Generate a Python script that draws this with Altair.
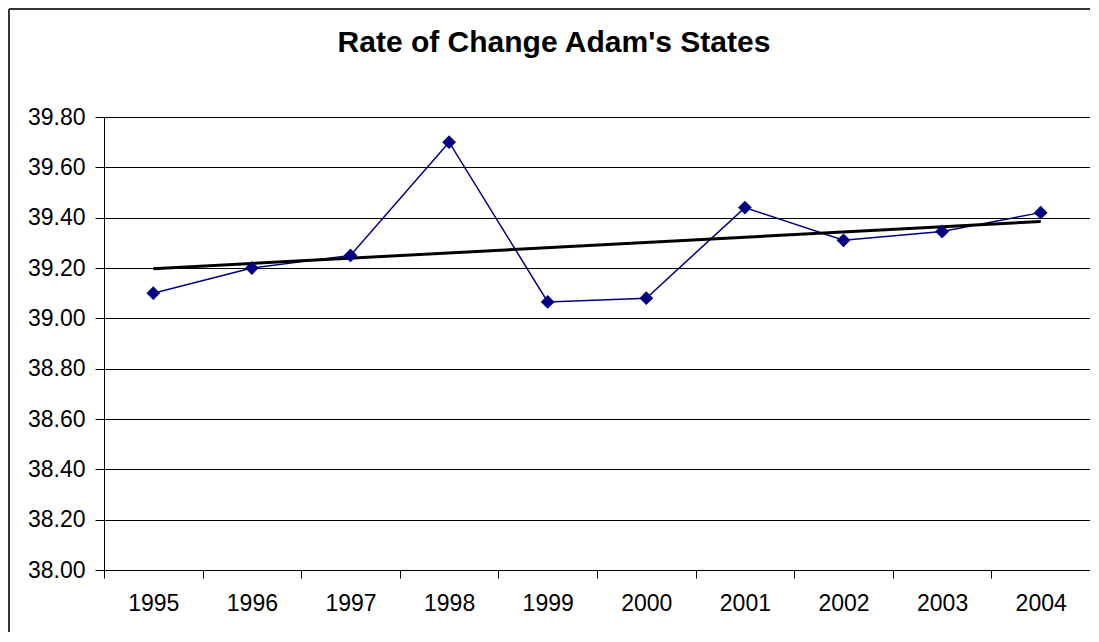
import altair as alt
import pandas as pd

years = [1995, 1996, 1997, 1998, 1999, 2000, 2001, 2002, 2003, 2004]
values = [39.10, 39.20, 39.25, 39.70, 39.065, 39.08, 39.44, 39.31, 39.345, 39.42]
y_ticks = [38.0, 38.2, 38.4, 38.6, 38.8, 39.0, 39.2, 39.4, 39.6, 39.8]
x_bounds = [1994.5, 1995.5, 1996.5, 1997.5, 1998.5, 1999.5, 2000.5, 2001.5, 2002.5, 2003.5, 2004.5]
title_text = ["Rate of Change Adam's States"]

df = pd.DataFrame({"year": years, "value": values})

W, H = 986, 453
FONT = "Liberation Sans"

x_scale = alt.Scale(domain=[1994.5, 2004.5], nice=False, zero=False)
y_scale = alt.Scale(domain=[38.0, 39.8], nice=False, zero=False)

x_axis = alt.Axis(
    values=x_bounds, title=None, grid=False,
    labelExpr="datum.value < 2004 ? format(datum.value + 0.5, 'd') : ''",
    labelOffset=W / 20, labelFlush=False, labelOverlap=False,
    tickSize=8, tickColor="black", domainColor="black",
    labelFontSize=23, labelColor="black", labelPadding=14, labelFont=FONT,
)
y_axis = alt.Axis(
    values=y_ticks, title=None, format=".2f", grid=True,
    gridColor="black", gridWidth=1,
    tickSize=9, tickColor="black", domainColor="black",
    labelFontSize=23, labelColor="black", labelPadding=10, labelFont=FONT,
)

base = alt.Chart(df)

line = base.mark_line(color="#000080", strokeWidth=1.5).encode(
    x=alt.X("year:Q", scale=x_scale, axis=x_axis),
    y=alt.Y("value:Q", scale=y_scale, axis=y_axis),
)
points = base.mark_point(shape="diamond", filled=True, color="#000080", size=190, opacity=1).encode(
    x=alt.X("year:Q", scale=x_scale),
    y=alt.Y("value:Q", scale=y_scale),
)
trend = base.transform_regression("year", "value").mark_line(color="black", strokeWidth=3).encode(
    x=alt.X("year:Q", scale=x_scale),
    y=alt.Y("value:Q", scale=y_scale),
)

one = pd.DataFrame({"t": title_text})
border_top = alt.Chart(one).mark_rule(stroke="#333333", strokeWidth=2).encode(
    x=alt.value(-95), x2=alt.value(W), y=alt.value(-108),
)
border_left = alt.Chart(one).mark_rule(stroke="#333333", strokeWidth=2).encode(
    x=alt.value(-95), y=alt.value(-108), y2=alt.value(H + 62),
)
title = alt.Chart(one).mark_text(
    font=FONT, fontSize=30, fontWeight="bold", color="black",
    align="center", baseline="alphabetic",
).encode(
    x=alt.value(W / 2 - 43), y=alt.value(-65), text="t:N",
)

chart = alt.layer(border_top, border_left, title, line, trend, points).properties(
    width=W, height=H,
    autosize=alt.AutoSizeParams(type="none"),
    padding={"left": 96, "top": 109, "right": 0, "bottom": 62},
).configure_view(stroke="#808080", strokeWidth=1.5).configure(background="white")

chart.save("out.html", embed_options={"renderer": "svg", "actions": False})
